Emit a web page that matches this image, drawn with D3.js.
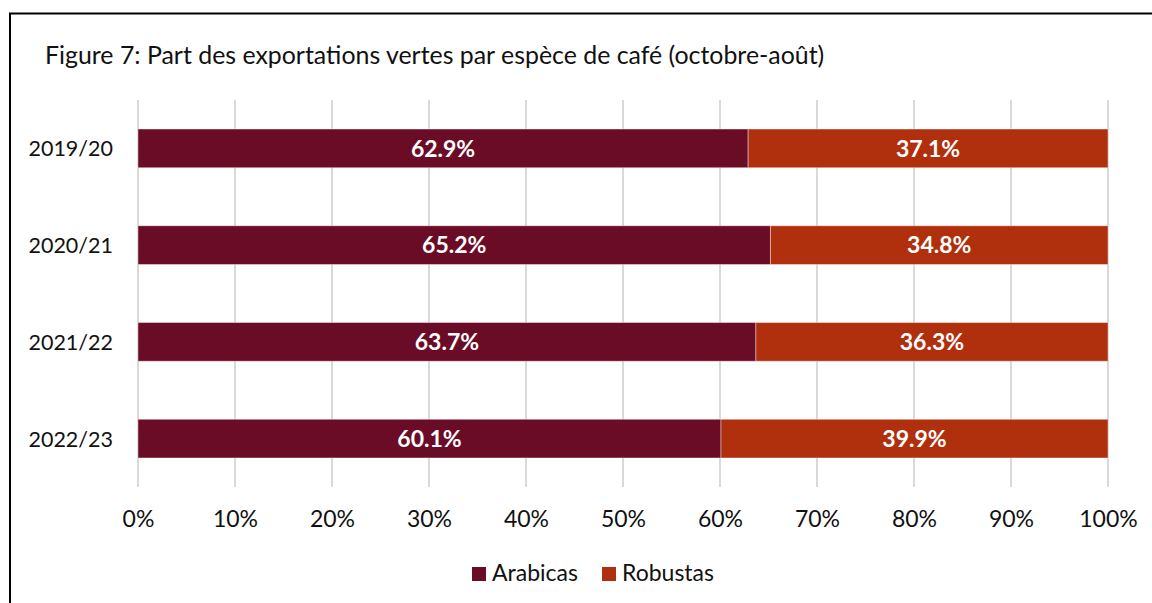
<!DOCTYPE html>
<html><head><meta charset="utf-8">
<script src="https://cdn.jsdelivr.net/npm/d3@7"></script>
<style>body{margin:0;background:#fff;} text{font-family:"Lato","Noto Sans",sans-serif;}</style>
</head><body>
<svg id="c" width="1152" height="603"></svg>
<script>
const categories = ["2019/20","2020/21","2021/22","2022/23"];
const arabicas = [62.9, 65.2, 63.7, 60.1];
const robustas = [37.1, 34.8, 36.3, 39.9];
const seriesNames = ["Arabicas","Robustas"];
const colors = ["#6B0C27","#B0300E"];
const ticks = [0,10,20,30,40,50,60,70,80,90,100];

const svg = d3.select("#c");
svg.append("path").attr("d","M10,603 L10,13.5 L1152,13.5").attr("fill","none").attr("stroke","#000").attr("stroke-width",2);

svg.append("text").attr("x",45).attr("y",64).attr("font-size",24.9).attr("fill","#111")
  .text("Figure 7: Part des exportations vertes par espèce de café (octobre-août)");

const x = d3.scaleLinear().domain([0,100]).range([138,1108]);
const y = d3.scaleBand().domain(categories).range([100,487]).paddingInner(0.6).paddingOuter(0.3);

svg.append("g").selectAll("line").data(ticks).join("line")
  .attr("x1",d=>x(d)).attr("x2",d=>x(d)).attr("y1",100).attr("y2",487)
  .attr("stroke","#d9d9d9").attr("stroke-width",2);

const rows = categories.map((c,i)=>({cat:c, vals:[arabicas[i], robustas[i]]}));
const g = svg.append("g");
rows.forEach(r=>{
  let acc = 0;
  r.vals.forEach((v,j)=>{
    const x0 = x(acc), x1 = x(acc+v);
    g.append("rect").attr("x",x0).attr("y",y(r.cat)).attr("width",x1-x0).attr("height",y.bandwidth())
      .attr("fill",colors[j]).attr("stroke","#fff").attr("stroke-opacity",0.4).attr("stroke-width",1);
    g.append("text").attr("x",(x0+x1)/2).attr("y",y(r.cat)+y.bandwidth()/2).attr("dy","0.36em")
      .attr("text-anchor","middle").attr("font-size",23).attr("font-weight","bold").attr("fill","#fff")
      .text(v.toFixed(1)+"%");
    acc += v;
  });
});

svg.append("g").selectAll("text").data(categories).join("text")
  .attr("x",113).attr("y",d=>y(d)+y.bandwidth()/2).attr("dy","0.37em").attr("text-anchor","end")
  .attr("font-size",21.5).attr("fill","#111").text(d=>d);

const xAxis = d3.axisBottom(x).tickValues(ticks).tickFormat(d=>d+"%").tickSize(0).tickPadding(0);
const ax = svg.append("g").attr("transform","translate(0,527)").call(xAxis);
ax.select(".domain").remove();
ax.selectAll("text").attr("font-size",23).attr("fill","#111").attr("dy",0).attr("font-family","Lato, 'Noto Sans', sans-serif");

const leg = svg.append("g");
const lx = [472, 602];
seriesNames.forEach((n,i)=>{
  leg.append("rect").attr("x",lx[i]).attr("y",567).attr("width",14).attr("height",14).attr("fill",colors[i]);
  leg.append("text").attr("x",lx[i]+20).attr("y",581).attr("font-size",23).attr("fill","#111").text(n);
});
</script>
</body></html>
